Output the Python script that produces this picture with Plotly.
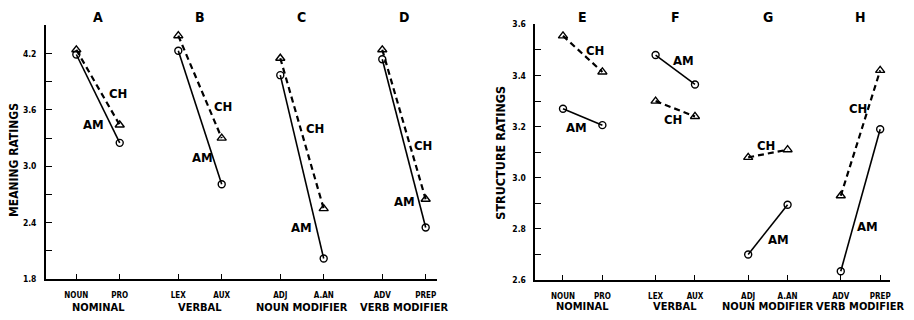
import plotly.graph_objects as go

# Word classes, grouped in pairs
categories = ["NOUN", "PRO", "LEX", "AUX", "ADJ", "A.AN", "ADV", "PREP"]
groups = ["NOMINAL", "VERBAL", "NOUN MODIFIER", "VERB MODIFIER"]
panel_left = ["A", "B", "C", "D"]
panel_right = ["E", "F", "G", "H"]
# horizontal slot of each word class on the category axis
cat_pos = [0.7, 1.7, 3.05, 4.05, 5.4, 6.4, 7.75, 8.75]

# Mean meaning ratings
meaning_am = [4.19, 3.25, 4.23, 2.81, 3.97, 2.02, 4.14, 2.35]
meaning_ch = [4.24, 3.44, 4.39, 3.30, 4.15, 2.55, 4.24, 2.65]

# Mean structure ratings
structure_am = [3.27, 3.206, 3.48, 3.365, 2.70, 2.895, 2.635, 3.19]
structure_ch = [3.555, 3.414, 3.30, 3.24, 3.08, 3.11, 2.93, 3.42]

# Series label positions (x on category axis, y in rating units)
meaning_am_lbl = [(1.10, 3.45), (3.61, 3.09), (5.89, 2.35), (8.26, 2.63)]
meaning_ch_lbl = [(1.66, 3.77), (4.07, 3.64), (6.19, 3.40), (8.68, 3.22)]
structure_am_lbl = [(1.04, 3.195), (3.75, 3.46), (6.16, 2.76), (8.44, 2.81)]
structure_ch_lbl = [(1.52, 3.498), (3.50, 3.23), (5.86, 3.127), (8.19, 3.27)]

FONT = "Liberation Sans Narrow, DejaVu Sans Condensed, sans-serif"
W, H = 914, 320


def paired(vals):
    xs, ys = [], []
    for i in range(0, len(vals), 2):
        xs += [cat_pos[i], cat_pos[i + 1], None]
        ys += [vals[i], vals[i + 1], None]
    return xs, ys


def px_x(p):
    return p / W


def px_y(p):
    return 1 - p / H


fig = go.Figure()

for (am, ch, xa, ya) in [
    (meaning_am, meaning_ch, "x", "y"),
    (structure_am, structure_ch, "x2", "y2"),
]:
    x, y = paired(ch)
    fig.add_trace(go.Scatter(
        x=x, y=y, xaxis=xa, yaxis=ya, mode="lines+markers",
        line=dict(color="black", width=2.2, dash="6px,4px"),
        marker=dict(symbol="triangle-up-open", size=8, color="black",
                    line=dict(width=1.4)),
        showlegend=False, hoverinfo="skip"))
    x, y = paired(am)
    fig.add_trace(go.Scatter(
        x=x, y=y, xaxis=xa, yaxis=ya, mode="lines+markers",
        line=dict(color="black", width=1.6),
        marker=dict(symbol="circle-open", size=7, color="black",
                    line=dict(width=1.4)),
        showlegend=False, hoverinfo="skip"))

ann = []
# series labels
for lbls, txt, xr, yr in [
    (meaning_am_lbl, "AM", "x", "y"), (meaning_ch_lbl, "CH", "x", "y"),
    (structure_am_lbl, "AM", "x2", "y2"), (structure_ch_lbl, "CH", "x2", "y2"),
]:
    for (lx, ly) in lbls:
        ann.append(dict(x=lx, y=ly, xref=xr, yref=yr, text=f"<b>{txt}</b>",
                        showarrow=False, font=dict(size=13, family=FONT)))

# panel letters and group names
for letters, xr, gy in [(panel_left, "x", 320), (panel_right, "x2", 319)]:
    for i, letter in enumerate(letters):
        mid = (cat_pos[2 * i] + cat_pos[2 * i + 1]) / 2
        ann.append(dict(x=mid, y=px_y(12), xref=xr, yref="paper",
                        yanchor="middle", text=f"<b>{letter}</b>",
                        showarrow=False, font=dict(size=14, family=FONT)))
        ann.append(dict(x=mid, y=px_y(gy), xref=xr, yref="paper",
                        yanchor="bottom", borderpad=0,
                        text=f"<b>{groups[i]}</b>",
                        showarrow=False, font=dict(size=11, family=FONT)))

# y-axis titles
ann.append(dict(x=px_x(14), y=px_y(160), xref="paper", yref="paper",
                xanchor="center", yanchor="middle",
                text="<b>MEANING RATINGS</b>", textangle=-90, showarrow=False,
                font=dict(size=12, family=FONT)))
ann.append(dict(x=px_x(501), y=px_y(152), xref="paper", yref="paper",
                xanchor="center", yanchor="middle",
                text="<b>STRUCTURE RATINGS</b>", textangle=-90, showarrow=False,
                font=dict(size=12.5, family=FONT)))

m_ticks = [1.8 + 0.3 * i for i in range(10)]
m_text = [f"<b>{v:.1f}</b>" if i % 2 == 0 else "" for i, v in enumerate(m_ticks)]
s_ticks = [2.6 + 0.1 * i for i in range(11)]
s_text = [f"<b>{v:.1f}</b>" if i % 2 == 0 else "" for i, v in enumerate(s_ticks)]

xcommon = dict(range=[0, 9], tickvals=cat_pos,
               ticktext=[f"<b>{c}</b>" for c in categories],
               ticks="inside", ticklen=5, tickwidth=1.2, tickcolor="black",
               ticklabelstandoff=7,
               showline=True, linecolor="black", linewidth=1.6,
               showgrid=False, zeroline=False,
               tickfont=dict(size=8, family=FONT, color="black"))
ycommon = dict(ticks="inside", ticklen=6, tickwidth=1.2, tickcolor="black",
               ticklabelstandoff=6,
               showline=True, linecolor="black", linewidth=1.6,
               showgrid=False, zeroline=False,
               tickfont=dict(size=8.5, family=FONT, color="black"))

fig.update_layout(
    width=W, height=H, margin=dict(l=0, r=0, t=0, b=0),
    paper_bgcolor="white", plot_bgcolor="white",
    font=dict(family=FONT, color="black"),
    xaxis=dict(domain=[px_x(46), px_x(437)], anchor="y", **xcommon),
    yaxis=dict(domain=[px_y(283), px_y(21)], anchor="x", range=[1.8, 4.5],
               tickvals=m_ticks, ticktext=m_text, **ycommon),
    xaxis2=dict(domain=[px_x(536), px_x(891)], anchor="y2", **xcommon),
    yaxis2=dict(domain=[px_y(284), px_y(20)], anchor="x2", range=[2.6, 3.6],
                tickvals=s_ticks, ticktext=s_text, **ycommon),
    annotations=ann,
)

fig.write_html("out.html")
